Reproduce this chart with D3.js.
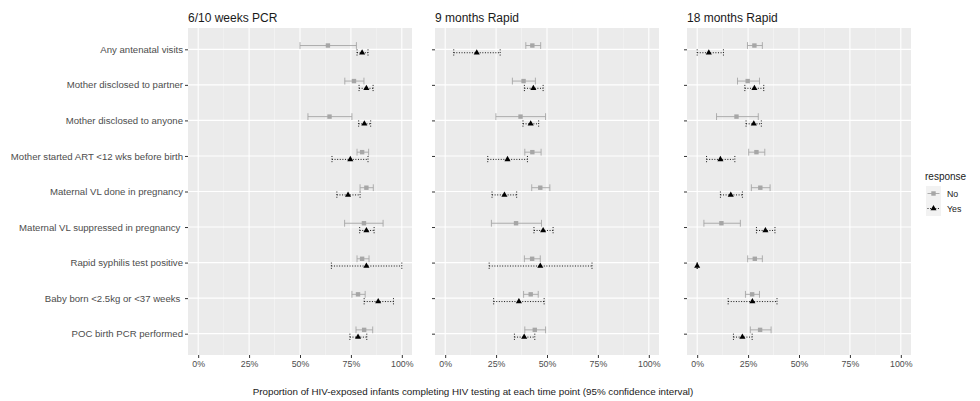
<!DOCTYPE html>
<html>
	<head>
		<meta charset="utf-8" />
		<title>HIV testing forest plot</title>
		<style>
			body { margin: 0; background: #fff; }
			#chart svg { display: block; font-family: "Liberation Sans", Arial, sans-serif; }
			.ylab { white-space: pre; }
		</style>
	</head>
	<body>
		<div id="chart"></div>
		<script src="https://cdnjs.cloudflare.com/ajax/libs/d3/7.8.5/d3.min.js"></script>
		<script>
			// categories (top to bottom) and panels
			var categories = [
				"Any antenatal visits",
				"Mother disclosed to partner",
				"Mother disclosed to anyone",
				"Mother started ART <12 wks before birth",
				"Maternal VL done in pregnancy",
				"Maternal VL suppressed in pregnancy ",
				"Rapid syphilis test positive",
				"Baby born <2.5kg or <37 weeks ",
				"POC birth PCR performed"
			];
			var panels = ["6/10 weeks PCR", "9 months Rapid", "18 months Rapid"];
			var responses = ["No", "Yes"];
			var xTicks = [0, 0.25, 0.5, 0.75, 1];

			// [lower, estimate, upper] per category, per panel
			var pcrNo = [[0.50,0.637,0.777],[0.72,0.765,0.814],[0.539,0.645,0.755],[0.78,0.805,0.837],[0.795,0.826,0.86],[0.719,0.814,0.908],[0.78,0.805,0.839],[0.755,0.785,0.82],[0.775,0.815,0.857]];
			var pcrYes = [[0.78,0.805,0.834],[0.79,0.826,0.859],[0.788,0.816,0.847],[0.657,0.747,0.834],[0.681,0.736,0.795],[0.793,0.826,0.864],[0.654,0.826,1.0],[0.815,0.884,0.959],[0.745,0.785,0.828]];
			var m9No = [[0.396,0.428,0.469],[0.33,0.385,0.443],[0.249,0.37,0.493],[0.391,0.428,0.471],[0.425,0.467,0.514],[0.227,0.348,0.473],[0.389,0.427,0.467],[0.385,0.42,0.457],[0.391,0.44,0.493]];
			var m9Yes = [[0.042,0.155,0.27],[0.389,0.433,0.481],[0.382,0.42,0.459],[0.209,0.306,0.404],[0.23,0.291,0.351],[0.436,0.481,0.53],[0.216,0.467,0.721],[0.238,0.362,0.486],[0.34,0.388,0.44]];
			var m18No = [[0.247,0.281,0.32],[0.198,0.248,0.306],[0.095,0.193,0.30],[0.253,0.291,0.332],[0.266,0.31,0.358],[0.033,0.119,0.212],[0.248,0.283,0.32],[0.237,0.27,0.306],[0.261,0.309,0.363]];
			var m18Yes = [[0.0,0.057,0.129],[0.234,0.281,0.327],[0.24,0.278,0.315],[0.046,0.114,0.185],[0.114,0.165,0.222],[0.291,0.335,0.382],[0.0,0.0,0.0],[0.152,0.271,0.392],[0.178,0.222,0.27]];

			var seriesByPanel = [[pcrNo, pcrYes], [m9No, m9Yes], [m18No, m18Yes]];

			var width = 980, height = 401;
			var panelLeft = [188, 435, 687];
			var panelW = 224;
			var plotTop = 28, plotBottom = 355;
			var dodge = 3.8;

			var svg = d3.select("#chart").append("svg")
				.attr("width", width)
				.attr("height", height);

			var y = d3.scalePoint()
				.domain(categories)
				.range([plotTop, plotBottom])
				.padding(0.6);

			var styles = {
				No: { color: "#a6a6a6", dash: null, off: -dodge },
				Yes: { color: "#000000", dash: "1,1.6", off: dodge * 0.9 }
			};

			panels.forEach(function(title, p) {
				var x0 = panelLeft[p];
				var x = d3.scaleLinear()
					.domain([-0.05, 1.05])
					.range([x0, x0 + panelW]);

				var g = svg.append("g");

				g.append("rect")
					.attr("x", x0).attr("y", plotTop)
					.attr("width", panelW).attr("height", plotBottom - plotTop)
					.attr("fill", "#ebebeb");

				// minor grid
				g.selectAll(".minor").data([0.125, 0.375, 0.625, 0.875]).enter()
					.append("line")
					.attr("x1", function(d) { return x(d); })
					.attr("x2", function(d) { return x(d); })
					.attr("y1", plotTop).attr("y2", plotBottom)
					.attr("stroke", "#f7f7f7").attr("stroke-width", 0.6);

				// major grid
				g.selectAll(".vmajor").data(xTicks).enter()
					.append("line")
					.attr("x1", function(d) { return x(d); })
					.attr("x2", function(d) { return x(d); })
					.attr("y1", plotTop).attr("y2", plotBottom)
					.attr("stroke", "#fff").attr("stroke-width", 1.1);

				g.selectAll(".hmajor").data(categories).enter()
					.append("line")
					.attr("x1", x0).attr("x2", x0 + panelW)
					.attr("y1", function(d) { return y(d); })
					.attr("y2", function(d) { return y(d); })
					.attr("stroke", "#fff").attr("stroke-width", 1.1);

				// x axis
				var xAxis = g.append("g")
					.attr("transform", "translate(0," + plotBottom + ")")
					.call(d3.axisBottom(x).tickValues(xTicks).tickFormat(d3.format(".0%")).tickSize(3).tickPadding(3));
				xAxis.select(".domain").remove();
				xAxis.selectAll(".tick line").attr("stroke", "#333");
				xAxis.selectAll("text").attr("fill", "#4d4d4d").style("font-size", "8.8px").style("font-family", "Liberation Sans, Arial, sans-serif");

				// y axis
				var yAxis = g.append("g")
					.attr("transform", "translate(" + x0 + ",0)")
					.call(d3.axisLeft(y).tickSize(3).tickPadding(2).tickFormat(p === 0 ? null : ""));
				yAxis.select(".domain").remove();
				yAxis.selectAll(".tick line").attr("stroke", "#333");
				yAxis.selectAll("text")
					.attr("class", "ylab")
					.attr("fill", "#4d4d4d")
					.style("font-size", "9.6px")
					.style("font-family", "Liberation Sans, Arial, sans-serif");

				// title
				svg.append("text")
					.attr("x", x0).attr("y", 22)
					.attr("fill", "#1a1a1a")
					.style("font-size", "12px")
					.text(title);

				// error bars and points
				responses.forEach(function(r, ri) {
					var s = styles[r];
					var data = seriesByPanel[p][ri];
					var grp = g.append("g");
					var rows = grp.selectAll("g").data(data).enter().append("g")
						.attr("transform", function(d, i) { return "translate(0," + (y(categories[i]) + s.off) + ")"; });

					rows.append("line")
						.attr("x1", function(d) { return x(d[0]); })
						.attr("x2", function(d) { return x(d[2]); })
						.attr("stroke", s.color).attr("stroke-width", 0.9)
						.attr("stroke-dasharray", s.dash);
					[0, 2].forEach(function(k) {
						rows.append("line")
							.attr("x1", function(d) { return x(d[k]); })
							.attr("x2", function(d) { return x(d[k]); })
							.attr("y1", -3.4).attr("y2", 3.4)
							.attr("stroke", s.color).attr("stroke-width", 0.9)
							.attr("stroke-dasharray", s.dash);
					});

					if (r === "No") {
						rows.append("rect")
							.attr("x", function(d) { return x(d[1]) - 2.2; })
							.attr("y", -2.2).attr("width", 4.4).attr("height", 4.4)
							.attr("fill", s.color);
					} else {
						rows.append("path")
							.attr("transform", function(d) { return "translate(" + x(d[1]) + ",0)"; })
							.attr("d", d3.symbol().type(d3.symbolTriangle).size(16))
							.attr("fill", s.color);
					}
				});
			});

			// x title
			svg.append("text")
				.attr("x", 473).attr("y", 395)
				.attr("text-anchor", "middle")
				.attr("fill", "#1a1a1a")
				.style("font-size", "9.8px")
				.text("Proportion of HIV-exposed infants completing HIV testing at each time point (95% confidence interval)");

			// legend
			var lg = svg.append("g").attr("transform", "translate(925,170)");
			lg.append("text").attr("x", 0).attr("y", 10)
				.attr("fill", "#1a1a1a").style("font-size", "10px").text("response");
			responses.forEach(function(r, i) {
				var s = styles[r];
				var ky = 16 + i * 15;
				var row = lg.append("g").attr("transform", "translate(1," + ky + ")");
				row.append("rect").attr("width", 15).attr("height", 15).attr("fill", "#f2f2f2");
				row.append("line").attr("x1", 1.5).attr("x2", 13.5).attr("y1", 7.5).attr("y2", 7.5)
					.attr("stroke", s.color).attr("stroke-width", 0.9).attr("stroke-dasharray", s.dash);
				if (r === "No") {
					row.append("rect").attr("x", 5.3).attr("y", 5.3).attr("width", 4.4).attr("height", 4.4).attr("fill", s.color);
				} else {
					row.append("path").attr("transform", "translate(7.5,7.5)")
						.attr("d", d3.symbol().type(d3.symbolTriangle).size(16)).attr("fill", s.color);
				}
				row.append("text").attr("x", 21).attr("y", 11)
					.attr("fill", "#1a1a1a").style("font-size", "8.8px").text(r);
			});
		</script>
	</body>
</html>
